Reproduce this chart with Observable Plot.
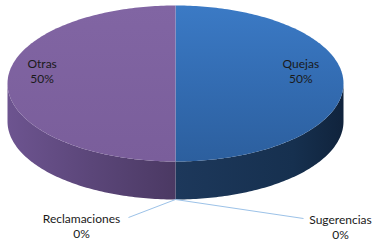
<!DOCTYPE html>
<html><head><meta charset="utf-8">
<script src="https://cdn.jsdelivr.net/npm/d3@7"></script>
<script src="https://cdn.jsdelivr.net/npm/@observablehq/plot@0.6"></script>
<style>html,body{margin:0;padding:0;background:#fff;} #chart{width:377px;height:242px;overflow:hidden;}</style>
</head><body><div id="chart"></div>
<script>
// ---- data ----
const categories = ["Quejas", "Sugerencias", "Reclamaciones", "Otras"];
const values = [50, 0, 0, 50];

// ---- layout ----
const W = 377, H = 242;
const cx = 175, cy = 83, rx = 168, ry = 78, depth = 38;
const topFill = {Quejas: "url(#gTopQ)", Otras: "url(#gTopO)", Sugerencias: "#3a74bf", Reclamaciones: "#3a74bf"};
const sideFill = {Quejas: "url(#gSideQ)", Otras: "url(#gSideO)", Sugerencias: "#1b3456", Reclamaciones: "#1b3456"};
const outsideOffset = {Sugerencias: {lx: 128, ly: 19, tx: 165, ty: 27}, Reclamaciones: {lx: -47, ly: 18, tx: -94, ty: 26}};

const total = d3.sum(values);
const slices = [];
let acc = 0;
categories.forEach((c, i) => {
  const a0 = acc / total * 2 * Math.PI;
  acc += values[i];
  const a1 = acc / total * 2 * Math.PI;
  slices.push({key: c, value: values[i], a0, a1, pct: Math.round(values[i] / total * 100) + "%"});
});

function pt(t, dy = 0, k = 1) {
  return {x: cx + k * rx * Math.sin(t), y: cy - k * ry * Math.cos(t) + dy};
}
function arc(a, b, dy) {
  const n = Math.max(2, Math.ceil(Math.abs(b - a) / (Math.PI / 180)));
  const out = [];
  for (let i = 0; i <= n; i++) out.push(pt(a + (b - a) * i / n, dy));
  return out;
}

const marks = [];
// side faces (front half: angles PI/2 .. 3PI/2)
for (const s of slices) {
  if (s.value <= 0) continue;
  const a = Math.max(s.a0, Math.PI / 2), b = Math.min(s.a1, 3 * Math.PI / 2);
  if (b <= a) continue;
  const poly = [...arc(a, b, 0), ...arc(b, a, depth)];
  marks.push(Plot.line(poly, {x: "x", y: "y", curve: "linear-closed", fill: sideFill[s.key], stroke: "none"}));
}
// top faces
for (const s of slices) {
  if (s.value <= 0) continue;
  const poly = [{x: cx, y: cy}, ...arc(s.a0, s.a1, 0)];
  marks.push(Plot.line(poly, {x: "x", y: "y", curve: "linear-closed", fill: topFill[s.key], stroke: "none"}));
}
// labels
const inside = slices.filter(s => s.value > 0).map(s => {
  const m = (s.a0 + s.a1) / 2, p = pt(m, -13, 0.77);
  return {x: p.x, y: p.y, text: s.key + "\n" + s.pct};
});
const outsideLinks = [], outsideText = [];
for (const s of slices) {
  if (s.value > 0) continue;
  const base = pt(s.a0, depth);
  const o = outsideOffset[s.key];
  outsideLinks.push({x1: base.x, y1: base.y, x2: base.x + o.lx, y2: base.y + o.ly});
  outsideText.push({x: base.x + o.tx, y: base.y + o.ty, text: s.key + "\n" + s.pct});
}
marks.push(Plot.link(outsideLinks, {x1: "x1", y1: "y1", x2: "x2", y2: "y2", stroke: "#9cc2e8", strokeWidth: 1}));
const textStyle = {x: "x", y: "y", text: "text", fill: "#1a1a1a", fontSize: 12, lineHeight: 1.28, lineAnchor: "middle", textAnchor: "middle"};
marks.push(Plot.text(inside, {...textStyle, dx: -4}));
marks.push(Plot.text(outsideText, textStyle));

const plot = Plot.plot({
  width: W, height: H, margin: 0,
  x: {domain: [0, W], range: [0, W], axis: null},
  y: {domain: [0, H], range: [0, H], axis: null},
  style: {fontFamily: "Lato, 'Open Sans', sans-serif", background: "#fff"},
  marks
});

const defs = d3.select(plot).insert("defs", ":first-child");
function grad(id, stops, horizontal) {
  const g = defs.append("linearGradient").attr("id", id)
    .attr("x1", 0).attr("y1", 0).attr("x2", horizontal ? 1 : 0).attr("y2", horizontal ? 0 : 1);
  stops.forEach(([o, c]) => g.append("stop").attr("offset", o).attr("stop-color", c));
}
grad("gTopQ", [[0, "#3b7ac5"], [0.5, "#336cb2"], [1, "#2c5f9e"]], false);
grad("gTopO", [[0, "#8165a3"], [1, "#7a5e9b"]], false);
grad("gSideO", [[0, "#6d5490"], [0.5, "#5b4679"], [1, "#4b3963"]], true);
grad("gSideQ", [[0, "#1d385b"], [0.7, "#16304f"], [1, "#10233c"]], true);

document.getElementById("chart").appendChild(plot);
</script>
</body></html>
